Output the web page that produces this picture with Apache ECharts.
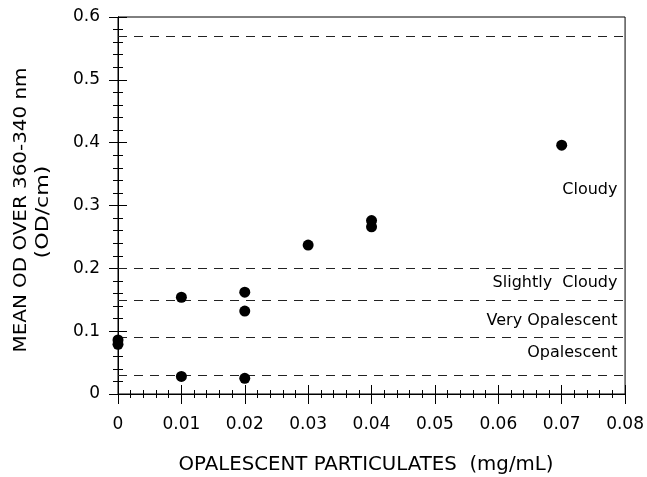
<!DOCTYPE html>
<html>
<head>
<meta charset="utf-8">
<script src="https://cdn.jsdelivr.net/npm/echarts@6/dist/echarts.min.js"></script>
<style>html,body{margin:0;padding:0;background:#fff}#c{width:647px;height:477px}</style>
</head>
<body>
<div id="c"></div>
<script>
// Data
var xValues = [0, 0, 0.01, 0.01, 0.02, 0.02, 0.02, 0.03, 0.04, 0.04, 0.07];
var yValues = [0.086, 0.079, 0.154, 0.028, 0.162, 0.132, 0.025, 0.237, 0.276, 0.266, 0.396];
var thresholds = [0.03, 0.089, 0.146, 0.202, 0.57];
var regionNames = ['Cloudy', 'Slightly  Cloudy', 'Very Opalescent', 'Opalescent'];
var regionLabelY = [0.325, 0.177, 0.116, 0.065];
var regionLabelX = 0.0788;
var xTitle = 'OPALESCENT PARTICULATES  (mg/mL)';
var yTitle1 = 'MEAN OD OVER 360-340 nm';
var yTitle2 = '(OD/cm)';

var FONT = 'DejaVu Sans';
var chart = echarts.init(document.getElementById('c'), null, {renderer: 'canvas'});

function xAxisDef(inside, labels) {
  return {
    type: 'value', min: 0, max: 0.08, interval: 0.01, position: 'bottom',
    axisLine: {show: true, onZero: false, lineStyle: {color: '#000', width: 1}},
    axisTick: {show: true, inside: inside, length: inside ? 9 : 10, lineStyle: {color: '#000'}},
    minorTick: {show: true, splitNumber: 5, length: 4, lineStyle: {color: '#000'}},
    splitLine: {show: false},
    axisLabel: {show: labels, margin: 22, color: '#000', fontFamily: FONT, fontSize: 17,
      formatter: function (v) { return v === 0 ? '0' : v.toFixed(2); }}
  };
}
function yAxisDef(inside, labels) {
  return {
    type: 'value', min: 0, max: 0.6, interval: 0.1, position: 'left',
    axisLine: {show: true, onZero: false, lineStyle: {color: '#000', width: 1}},
    axisTick: {show: true, inside: inside, length: 9, lineStyle: {color: '#000'}},
    minorTick: {show: true, splitNumber: 5, length: 5, lineStyle: {color: '#000'}},
    splitLine: {show: false},
    axisLabel: {show: labels, margin: 18, color: '#000', fontFamily: FONT, fontSize: 17,
      formatter: function (v) { return v === 0 ? '0' : v.toFixed(1); }}
  };
}

var labelData = regionNames.map(function (n, i) { return {value: [regionLabelX, regionLabelY[i]], name: n}; });

chart.setOption({
  animation: false,
  backgroundColor: '#fff',
  grid: {left: 118, right: 21, top: 17, bottom: 83, show: true, borderColor: '#000', borderWidth: 1, backgroundColor: 'transparent'},
  xAxis: [xAxisDef(false, true), xAxisDef(true, false)],
  yAxis: [yAxisDef(false, true), yAxisDef(true, false)],
  graphic: [
    {type: 'text', x: 366, y: 465, scaleX: 1.04, style: {text: xTitle, fill: '#000', font: '19px "DejaVu Sans"', textAlign: 'center', textVerticalAlign: 'middle'}},
    {type: 'text', x: 22, y: 210, rotation: Math.PI / 2, scaleX: 1.17, style: {text: yTitle1, fill: '#000', font: '17px "DejaVu Sans"', textAlign: 'center', textVerticalAlign: 'middle'}},
    {type: 'text', x: 44, y: 212, rotation: Math.PI / 2, scaleX: 1.3, style: {text: yTitle2, fill: '#000', font: '17px "DejaVu Sans"', textAlign: 'center', textVerticalAlign: 'middle'}}
  ],
  series: [
    {
      type: 'scatter', symbol: 'circle', symbolSize: 11,
      itemStyle: {color: '#000', opacity: 1},
      data: xValues.map(function (x, i) { return [x, yValues[i]]; }),
      markLine: {
        silent: true, symbol: ['none', 'none'], label: {show: false},
        lineStyle: {color: '#222', width: 1, type: [9, 7], opacity: 1},
        data: thresholds.map(function (t) { return {yAxis: t}; })
      },
      z: 5
    },
    {
      type: 'scatter', symbolSize: 0, silent: true,
      itemStyle: {opacity: 1},
      data: labelData,
      label: {show: true, position: 'left', distance: 0, color: '#000', fontFamily: FONT, fontSize: 16,
        formatter: function (p) { return p.name; }}
    }
  ]
});
</script>
</body>
</html>
